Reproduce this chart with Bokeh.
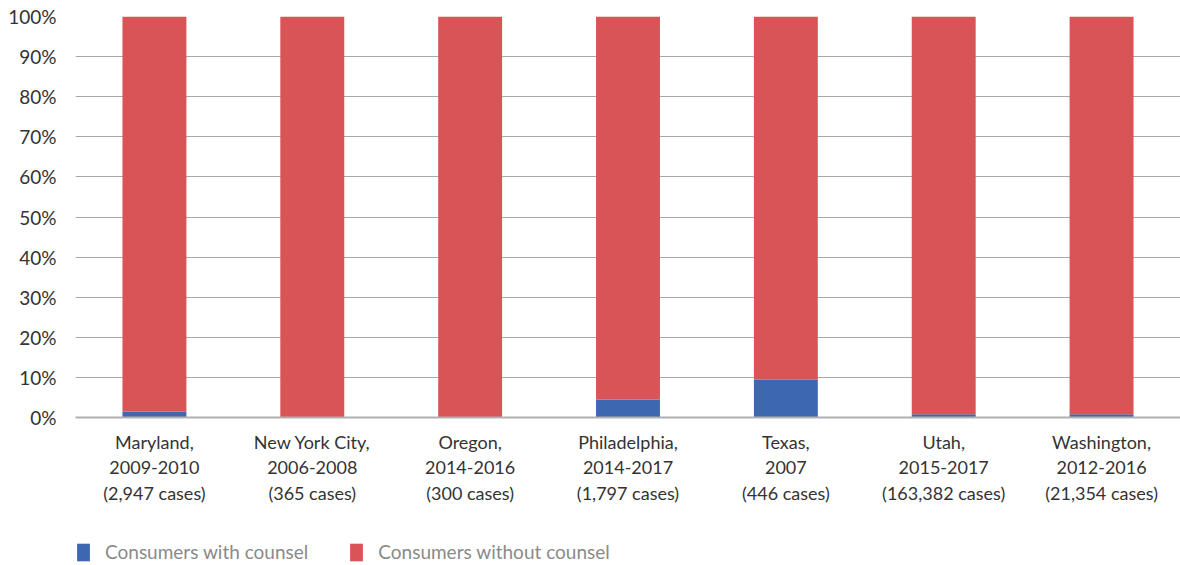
from bokeh.plotting import figure
from bokeh.models import ColumnDataSource, NumeralTickFormatter, Legend, LegendItem, FixedTicker, Span
from bokeh.core.properties import value
from bokeh.embed import file_html
from bokeh.resources import INLINE

categories = ["Maryland,\n2009-2010\n(2,947 cases)",
              "New York City,\n2006-2008\n(365 cases)",
              "Oregon,\n2014-2016\n(300 cases)",
              "Philadelphia,\n2014-2017\n(1,797 cases)",
              "Texas,\n2007\n(446 cases)",
              "Utah,\n2015-2017\n(163,382 cases)",
              "Washington,\n2012-2016\n(21,354 cases)"]
with_counsel = [0.015, 0.0, 0.0, 0.045, 0.094, 0.008, 0.008]
without_counsel = [1 - v for v in with_counsel]
series = ["with", "without"]
series_labels = ["Consumers with counsel", "Consumers without counsel"]
colors = ["#3e67b1", "#d95457"]
y_ticks = [0, 0.1, 0.2, 0.3, 0.4, 0.5, 0.6, 0.7, 0.8, 0.9, 1.0]

src = ColumnDataSource(dict(cat=categories, base=[0] * len(categories),
                            **{"with": with_counsel, "without": without_counsel}))

p = figure(x_range=categories, y_range=(-0.369, 1), frame_width=1105, frame_height=549,
           output_backend="svg", toolbar_location=None,
           min_border_left=75, min_border_right=0, min_border_top=16,
           min_border_bottom=0)
p.outline_line_color = None

rs = p.vbar_stack(series, x="cat", width=0.405, color=colors, source=src, line_width=0)

p.yaxis.ticker = FixedTicker(ticks=y_ticks)
p.yaxis.formatter = NumeralTickFormatter(format="0%")
p.yaxis.axis_line_color = None
p.yaxis.major_tick_line_color = None
p.yaxis.minor_tick_line_color = None
p.yaxis.major_label_text_font = "Lato"
p.yaxis.major_label_text_font_size = "19px"
p.yaxis.major_label_text_color = "#333333"
p.yaxis.major_label_standoff = 13

p.xaxis.visible = False
p.xgrid.grid_line_color = None
p.ygrid.grid_line_color = "#a8a8a8"
p.ygrid.grid_line_width = 1

p.add_layout(Span(location=0, dimension="width", line_color="#b0b0b0", line_width=2))

p.text(x="cat", y="base", text="cat", source=src, text_align="center",
       text_baseline="top", y_offset=13, text_font=value("Lato"),
       text_font_size="18px", text_color="#333333", text_line_height=1.17)

legend = Legend(items=[LegendItem(label=series_labels[i], renderers=[rs[i]]) for i in range(2)],
                orientation="horizontal", location=(0, 2),
                label_text_font="Lato", label_text_font_size="19px",
                label_text_color="#8a8a8a", glyph_width=16, glyph_height=22,
                spacing=40, border_line_color=None, background_fill_alpha=0,
                label_standoff=14, margin=0, padding=0)
p.add_layout(legend, "center")

open("out.html", "w").write(file_html(p, INLINE))
